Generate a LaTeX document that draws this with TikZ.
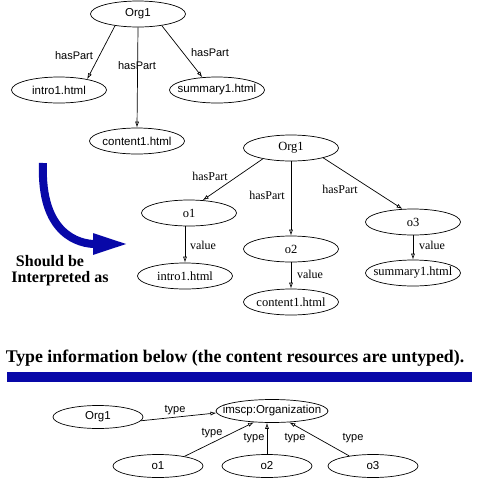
\documentclass[tikz,border=0pt]{standalone}
\usepackage{fontspec}
\setmainfont{Liberation Serif}
\setsansfont{Liberation Sans}
\usetikzlibrary{shapes.geometric,arrows.meta}
\definecolor{navyblue}{RGB}{8,8,168}

\begin{document}
\begin{tikzpicture}[x=1pt, y=-1pt, line width=0.7pt,
  obj/.style={draw, ellipse, inner xsep=-6pt, inner ysep=0pt, minimum width=95pt, minimum height=26pt},
  objsf/.style={obj, font=\sffamily\fontsize{11.5}{13}\selectfont},
  objrm/.style={obj, font=\fontsize{12.5}{14}\selectfont},
  lblsf/.style={font=\sffamily\fontsize{11}{13}\selectfont, inner sep=1pt},
  lblrm/.style={font=\fontsize{12}{14}\selectfont, inner sep=1pt},
  rel/.style={-{Latex[open, length=6pt, width=4pt]}},
  heading/.style={font=\bfseries\fontsize{16}{18}\selectfont, inner sep=0pt}]
  \useasboundingbox (0,0) rectangle (478,483);

  % first graph
  \node[objsf] (orgA)     at (138,14)  {Org1};
  \node[objsf] (introA)   at (59,90)   {intro1.html};
  \node[objsf] (contentA) at (137,141) {content1.html};
  \node[objsf] (summaryA) at (217,90)  {summary1.html};

  \draw[rel] (orgA.207) -- (introA.21);
  \draw[rel] (orgA.south) -- (contentA.north);
  \draw[rel] (orgA.334) -- (summaryA.139);
  \node[lblsf] at (74,56)  {hasPart};
  \node[lblsf] at (137,66) {hasPart};
  \node[lblsf] at (210,53) {hasPart};

  % arrow between the two graphs
  \draw[navyblue, line width=8pt, -{Triangle[length=36pt, width=19pt]}]
    (43,163) .. controls (40,235) and (80,244) .. (129,244);
  \node[heading] (should) at (50,261) {Should be};
  \node[heading] (interp) at (60,279) {Interpreted as};

  % second graph
  \node[objrm] (orgB)     at (291,148) {Org1};
  \node[objrm] (oB1)      at (189,213) {o1};
  \node[objrm] (oB2)      at (291,249) {o2};
  \node[objrm] (oB3)      at (413,222) {o3};
  \node[objrm] (introB)   at (185,276) {intro1.html};
  \node[objrm] (contentB) at (291,302) {content1.html};
  \node[objrm] (summaryB) at (413,273) {summary1.html};

  \draw[rel] (orgB.201) -- (oB1.43);
  \draw[rel] (orgB.south) -- (oB2.north);
  \draw[rel] (orgB.343) -- (oB3.129);
  \draw[rel] (oB1.south -| introB.north) -- (introB.north);
  \draw[rel] (oB2.south) -- (contentB.north);
  \draw[rel] (oB3.south) -- (summaryB.north);
  \node[lblrm] at (210,176) {hasPart};
  \node[lblrm] at (267,195) {hasPart};
  \node[lblrm] at (340,189) {hasPart};
  \node[lblrm] at (203,245) {value};
  \node[lblrm] at (310,274) {value};
  \node[lblrm] at (432,245) {value};

  % type information
  \node[heading, font=\bfseries\fontsize{17.8}{20}\selectfont] (typeinfo) at (235,358)
    {Type information below (the content resources are untyped).};
  \fill[navyblue] (7,372) rectangle (472,382);

  \node[objsf, minimum width=90pt, minimum height=23pt] (orgC) at (98,417) {Org1};
  \node[objsf, inner xsep=-11pt, minimum width=112pt, minimum height=23pt] (imscp) at (272,411) {imscp:Organization};
  \node[objsf, minimum width=90pt, minimum height=23pt] (oC1) at (158,466) {o1};
  \node[objsf, minimum width=90pt, minimum height=23pt] (oC2) at (267,466) {o2};
  \node[objsf, minimum width=90pt, minimum height=23pt] (oC3) at (373,466) {o3};

  \draw[rel] (orgC.355) -- (imscp.182);
  \draw[rel] (oC1.20) -- (imscp.212);
  \draw[rel] (oC2.north) -- (oC2.north |- imscp.south);
  \draw[rel] (oC3.157) -- (imscp.327);
  \node[lblsf] at (175,410) {type};
  \node[lblsf] at (212,433) {type};
  \node[lblsf] at (254,438) {type};
  \node[lblsf] at (295,438) {type};
  \node[lblsf] at (353,438) {type};
\end{tikzpicture}
\end{document}
